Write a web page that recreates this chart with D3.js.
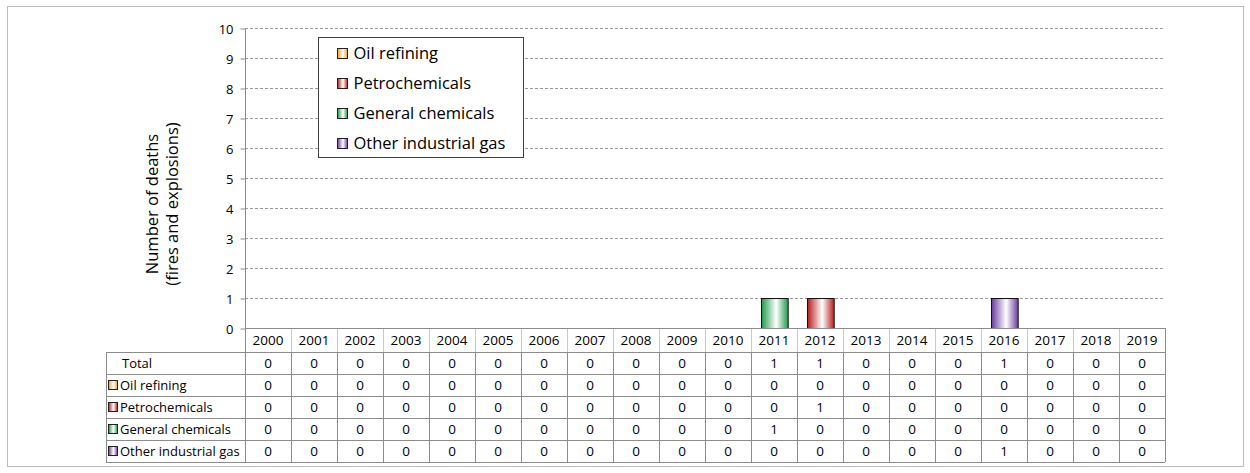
<!DOCTYPE html>
<html>
<head>
<meta charset="utf-8">
<script src="https://cdn.jsdelivr.net/npm/d3@7"></script>
<style>
  body { margin: 0; background: #fff; }
  svg text { font-family: "Open Sans", sans-serif; fill: #000; }
</style>
</head>
<body>
<script>
const years = d3.range(2000, 2020).map(String);
const seriesNames = ['Oil refining', 'Petrochemicals', 'General chemicals', 'Other industrial gas'];
const oilRefining      = [0,0,0,0,0,0,0,0,0,0,0,0,0,0,0,0,0,0,0,0];
const petrochemicals   = [0,0,0,0,0,0,0,0,0,0,0,0,1,0,0,0,0,0,0,0];
const generalChemicals = [0,0,0,0,0,0,0,0,0,0,0,1,0,0,0,0,0,0,0,0];
const otherGas         = [0,0,0,0,0,0,0,0,0,0,0,0,0,0,0,0,1,0,0,0];
const yTicks = d3.range(0, 11);
const colors = ['#e8a020', '#b81c1c', '#1f9a4a', '#6a3a9e'];

const W = 1250, H = 473;
const plot = { left: 245, right: 1165, top: 28, bottom: 328 };
const rowH = 22, headH = 24, labelLeft = 106;

const svg = d3.select('body').append('svg')
  .attr('width', W).attr('height', H);

// outer frame
svg.append('rect')
  .attr('x', 7.5).attr('y', 6.5)
  .attr('width', 1236).attr('height', 460)
  .attr('fill', 'none').attr('stroke', '#bdbdbd');

const table = years.map((yr, i) => ({
  year: yr,
  'Oil refining': oilRefining[i],
  'Petrochemicals': petrochemicals[i],
  'General chemicals': generalChemicals[i],
  'Other industrial gas': otherGas[i]
}));

const x = d3.scaleBand().domain(years).range([plot.left, plot.right]);
const xBar = d3.scaleBand().domain(years).range([plot.left, plot.right])
  .paddingInner(0.42).paddingOuter(0.21);
const y = d3.scaleLinear().domain([0, 10]).range([plot.bottom, plot.top]);

// gradients
const defs = svg.append('defs');
colors.forEach((c, i) => {
  const g = defs.append('linearGradient').attr('id', 'grad' + i)
    .attr('x1', '0%').attr('x2', '100%').attr('y1', '0%').attr('y2', '0%');
  g.append('stop').attr('offset', '0%').attr('stop-color', c);
  g.append('stop').attr('offset', '55%').attr('stop-color', '#ffffff');
  g.append('stop').attr('offset', '100%').attr('stop-color', c);
});

// grid lines
svg.append('g')
  .selectAll('line').data(yTicks.filter(t => t > 0)).enter().append('line')
  .attr('x1', plot.left).attr('x2', plot.right)
  .attr('y1', d => Math.round(y(d)) + 0.5).attr('y2', d => Math.round(y(d)) + 0.5)
  .attr('stroke', '#9a9a9a').attr('stroke-dasharray', '3,2');

// y axis
const yAxis = svg.append('g')
  .attr('transform', 'translate(' + (plot.left + 0.5) + ',0.5)')
  .call(d3.axisLeft(y).tickValues(yTicks).tickSize(5).tickPadding(7).tickFormat(d3.format('d')));
yAxis.select('.domain').attr('stroke', '#8c8c8c').attr('d', 'M0,' + plot.top + 'V' + (plot.bottom + headH));
yAxis.selectAll('.tick line').attr('stroke', '#8c8c8c');
yAxis.selectAll('.tick text').style('font-size', '13px').attr('dy', '0.36em');

// y title
const yt = svg.append('text')
  .attr('transform', 'translate(152,204) rotate(-90)')
  .attr('text-anchor', 'middle')
  .style('font-size', '16.5px');
yt.append('tspan').attr('x', 0).attr('dy', '0.35em').text('Number of deaths');
yt.append('tspan').attr('x', 0).attr('dy', '1.2em').text('(fires and explosions)');

// stacked bars
const stack = d3.stack().keys(seriesNames)(table);
svg.append('g').selectAll('g').data(stack).enter().append('g')
  .attr('fill', (d, i) => 'url(#grad' + i + ')')
  .selectAll('rect').data(d => d.filter(v => v[1] > v[0])).enter().append('rect')
  .attr('x', d => Math.round(xBar(d.data.year)) + 0.5)
  .attr('y', d => Math.round(y(d[1])) + 0.5)
  .attr('width', xBar.bandwidth())
  .attr('height', d => y(d[0]) - y(d[1]))
  .attr('stroke', '#111').attr('stroke-width', 1);

// data table
const tTop = plot.bottom;
const rows = [{ name: 'Total', vals: table.map(r => seriesNames.reduce((s, k) => s + r[k], 0)) }]
  .concat(seriesNames.map(k => ({ name: k, vals: table.map(r => r[k]) })));
const tb = svg.append('g');

// header row
tb.selectAll('.hsep').data(years).enter().append('line')
  .attr('x1', d => Math.round(x(d) + x.bandwidth()) + 0.5)
  .attr('x2', d => Math.round(x(d) + x.bandwidth()) + 0.5)
  .attr('y1', tTop).attr('y2', tTop + headH)
  .attr('stroke', '#c8c8c8');
tb.append('line').attr('x1', plot.left).attr('x2', plot.right)
  .attr('y1', tTop + 0.5).attr('y2', tTop + 0.5).attr('stroke', '#8c8c8c');
tb.selectAll('.htext').data(years).enter().append('text')
  .attr('x', d => x(d) + x.bandwidth() / 2)
  .attr('y', tTop + headH / 2).attr('dy', '0.36em')
  .attr('text-anchor', 'middle').style('font-size', '13.5px')
  .text(d => d);

const bodyTop = tTop + headH;
const rowsG = tb.selectAll('.row').data(rows).enter().append('g')
  .attr('transform', (d, i) => 'translate(0,' + (bodyTop + i * rowH) + ')');
rowsG.selectAll('text.v').data(d => d.vals).enter().append('text')
  .attr('x', (d, i) => x(years[i]) + x.bandwidth() / 2)
  .attr('y', rowH / 2).attr('dy', '0.36em')
  .attr('text-anchor', 'middle').style('font-size', '13.5px')
  .text(d => d);
rowsG.append('text')
  .attr('x', (d, i) => i === 0 ? 122 : 120)
  .attr('y', rowH / 2).attr('dy', '0.36em')
  .style('font-size', '13px')
  .text(d => d.name);
rowsG.filter((d, i) => i > 0).append('rect')
  .attr('x', 108.5).attr('y', rowH / 2 - 4.5)
  .attr('width', 9).attr('height', 9)
  .attr('fill', d => 'url(#grad' + seriesNames.indexOf(d.name) + ')')
  .attr('stroke', '#222');

// body grid
const hLines = d3.range(0, rows.length + 1).map(i => bodyTop + i * rowH);
tb.selectAll('.hl').data(hLines).enter().append('line')
  .attr('x1', labelLeft).attr('x2', plot.right)
  .attr('y1', d => d + 0.5).attr('y2', d => d + 0.5)
  .attr('stroke', '#8c8c8c');
const vLines = [labelLeft, plot.left].concat(years.map(yr => Math.round(x(yr) + x.bandwidth())));
tb.selectAll('.vl').data(vLines).enter().append('line')
  .attr('x1', d => d + 0.5).attr('x2', d => d + 0.5)
  .attr('y1', bodyTop).attr('y2', bodyTop + rows.length * rowH)
  .attr('stroke', '#8c8c8c');
tb.append('line').attr('x1', plot.right + 0.5).attr('x2', plot.right + 0.5)
  .attr('y1', tTop).attr('y2', bodyTop).attr('stroke', '#8c8c8c');

// legend
const lg = svg.append('g').attr('transform', 'translate(318.5,37.5)');
lg.append('rect').attr('width', 205).attr('height', 120)
  .attr('fill', '#fff').attr('stroke', '#404040');
const li = lg.selectAll('.li').data(seriesNames).enter().append('g')
  .attr('transform', (d, i) => 'translate(0,' + (16 + i * 30) + ')');
li.append('rect').attr('x', 19).attr('y', -5).attr('width', 10).attr('height', 10)
  .attr('fill', (d, i) => 'url(#grad' + i + ')').attr('stroke', '#222');
li.append('text').attr('x', 35).attr('dy', '0.36em')
  .style('font-size', '16.5px').text(d => d);
</script>
</body>
</html>
